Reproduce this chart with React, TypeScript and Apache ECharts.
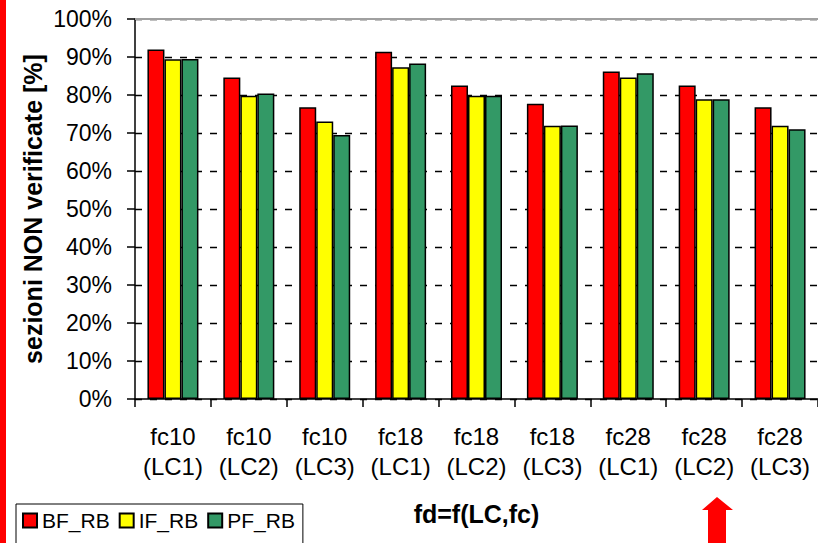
import React, { useEffect, useRef } from "react";
import * as echarts from "echarts";

const categories = [
  "fc10\n(LC1)", "fc10\n(LC2)", "fc10\n(LC3)",
  "fc18\n(LC1)", "fc18\n(LC2)", "fc18\n(LC3)",
  "fc28\n(LC1)", "fc28\n(LC2)", "fc28\n(LC3)",
];
const seriesNames = ["BF_RB", "IF_RB", "PF_RB"];
const bfRb = [92.0, 84.6, 76.8, 91.4, 82.5, 77.7, 86.2, 82.5, 76.8];
const ifRb = [89.4, 79.8, 73.0, 87.3, 79.8, 71.9, 84.6, 78.9, 71.9];
const pfRb = [89.5, 80.4, 69.5, 88.3, 79.8, 72.0, 85.7, 78.9, 71.0];
const seriesColors = ["#ff0000", "#ffff00", "#339966"];
const yAxisTitle = "sezioni NON verificate [%]";
const xAxisTitle = "fd=f(LC,fc)";

const FONT = "Arial, 'Liberation Sans', sans-serif";

export default function App() {
  const ref = useRef<HTMLDivElement>(null);
  useEffect(() => {
    if (!ref.current) return;
    const chart = echarts.init(ref.current, undefined, { renderer: "svg" });
    const values = [bfRb, ifRb, pfRb];
    chart.setOption({
      animation: false,
      backgroundColor: "#ffffff",
      textStyle: { fontFamily: FONT },
      grid: { left: 135, top: 19, width: 686, height: 380, containLabel: false },
      legend: {
        left: 16,
        top: 504,
        orient: "horizontal",
        data: seriesNames,
        icon: "rect",
        itemWidth: 14,
        itemHeight: 14,
        itemGap: 9,
        padding: [6, 8, 20, 6],
        borderColor: "#000",
        borderWidth: 1,
        textStyle: { fontFamily: FONT, fontSize: 21, color: "#000" },
      },
      xAxis: {
        type: "category",
        data: categories,
        name: xAxisTitle,
        nameLocation: "middle",
        nameGap: 102,
        nameTextStyle: { fontFamily: FONT, fontSize: 25, fontWeight: "bold", color: "#000" },
        axisLine: { show: true, lineStyle: { color: "#000", width: 1.5 } },
        axisTick: { show: true, length: 8, alignWithLabel: false, lineStyle: { color: "#000", width: 1.5 } },
        axisLabel: {
          color: "#000",
          fontFamily: FONT,
          fontSize: 24,
          lineHeight: 30,
          margin: 22,
          interval: 0,
        },
        splitLine: { show: false },
      },
      yAxis: {
        type: "value",
        min: 0,
        max: 100,
        interval: 10,
        axisLine: { show: true, lineStyle: { color: "#000", width: 1.5 } },
        axisTick: { show: true, length: 8, inside: false, lineStyle: { color: "#000", width: 1.5 } },
        axisLabel: {
          color: "#000",
          fontFamily: FONT,
          fontSize: 23,
          margin: 23,
          formatter: (v: number) => `${v}%`,
        },
        splitLine: { show: true, lineStyle: { color: "#000", width: 1.3, type: [7, 8] } },
      },
      series: seriesNames.map((name, i) => ({
        name,
        type: "bar",
        data: values[i],
        barWidth: 17,
        barGap: "0%",
        itemStyle: { color: seriesColors[i], borderColor: "#000", borderWidth: 1.5 },
        emphasis: { disabled: true },
        ...(i === 0
          ? {
              markLine: {
                silent: true,
                symbol: "none",
                label: { show: false },
                lineStyle: { color: "#a0a0a0", width: 2, type: "solid" },
                data: [{ yAxis: 100 }],
              },
            }
          : {}),
      })),
      graphic: [
        { type: "rect", left: 0, top: 0, shape: { x: 0, y: 0, width: 6, height: 543 }, style: { fill: "#ff0000" } },
        {
          type: "text",
          x: 33,
          y: 209,
          rotation: Math.PI / 2,
          style: {
            text: yAxisTitle,
            fontFamily: FONT,
            fontSize: 25,
            fontWeight: "bold",
            fill: "#000",
            align: "center",
            verticalAlign: "middle",
          },
        },
        {
          type: "polygon",
          shape: {
            points: [
              [717, 497], [733, 510], [726, 510], [726, 543], [708, 543], [708, 510], [702, 510],
            ],
          },
          style: { fill: "#ff0000" },
        },
      ],
    });
    return () => chart.dispose();
  }, []);
  return (
    <div
      ref={ref}
      style={{ position: "fixed", left: 0, top: 0, width: 818, height: 543, background: "#fff" }}
    />
  );
}
